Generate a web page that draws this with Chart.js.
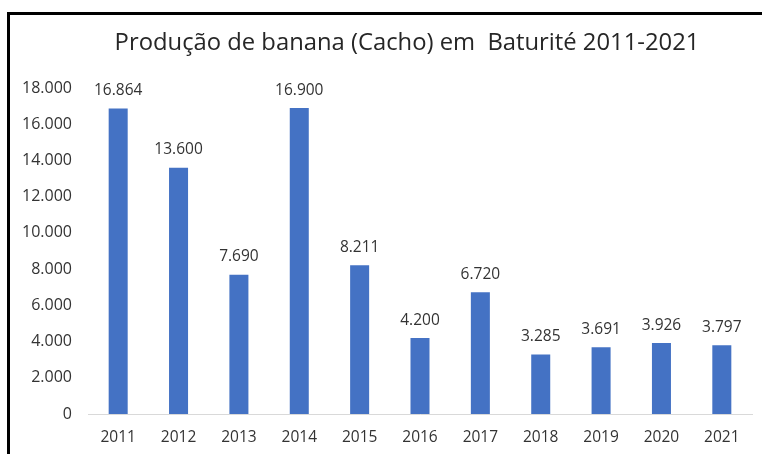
<!DOCTYPE html>
<html>
<head>
<meta charset="utf-8">
<script src="https://cdn.jsdelivr.net/npm/chart.js@4/dist/chart.umd.min.js"></script>
<style>
  html, body { margin: 0; padding: 0; background: #fff; }
  #wrap { position: relative; width: 762px; height: 454px; overflow: hidden; }
  #frame { position: absolute; left: 7px; top: 12px; width: 800px; height: 500px;
           border-left: 3px solid #000; border-top: 3px solid #000; box-sizing: border-box; }
  canvas { position: absolute; left: 0; top: 0; }
</style>
</head>
<body>
<div id="wrap">
  <div id="frame"></div>
  <canvas id="c" width="762" height="454"></canvas>
</div>
<script>
const categories = ["2011","2012","2013","2014","2015","2016","2017","2018","2019","2020","2021"];
const production = [16864, 13600, 7690, 16900, 8211, 4200, 6720, 3285, 3691, 3926, 3797];
const titleText = "Produção de banana (Cacho) em  Baturité 2011-2021";

const FONT = "'Open Sans', 'Noto Sans', sans-serif";
const fmt = v => v.toLocaleString('pt-BR');

const labelPlugin = {
  id: 'barLabels',
  afterDatasetsDraw(chart) {
    const ctx = chart.ctx;
    const meta = chart.getDatasetMeta(0);
    ctx.save();
    ctx.font = "15.5px " + FONT;
    ctx.fillStyle = '#333333';
    ctx.textAlign = 'center';
    ctx.textBaseline = 'bottom';
    meta.data.forEach((bar, i) => {
      ctx.fillText(fmt(chart.data.datasets[0].data[i]), bar.x, bar.y - 10);
    });
    ctx.restore();
  }
};

const titlePlugin = {
  id: 'customTitle',
  afterDraw(chart) {
    const ctx = chart.ctx;
    ctx.save();
    ctx.font = "23.8px " + FONT;
    ctx.fillStyle = '#262626';
    ctx.textAlign = 'center';
    ctx.textBaseline = 'middle';
    ctx.fillText(titleText, 407, 43);
    ctx.restore();
  }
};

new Chart(document.getElementById('c'), {
  type: 'bar',
  data: {
    labels: categories,
    datasets: [{
      data: production,
      backgroundColor: '#4472C4',
      categoryPercentage: 1.0,
      barPercentage: 0.315
    }]
  },
  options: {
    responsive: false,
    animation: false,
    layout: { padding: { left: 0, right: 10, top: 88, bottom: 0 } },
    plugins: {
      legend: { display: false },
      tooltip: { enabled: false },
      title: { display: false }
    },
    scales: {
      x: {
        grid: { display: false, drawTicks: false },
        border: { display: true, color: '#d9d9d9', width: 1 },
        ticks: { color: '#333333', font: { family: FONT, size: 15.5 }, padding: 14, maxRotation: 0 },
        afterFit(s) { s.height = 40; }
      },
      y: {
        min: 0, max: 18000,
        grid: { display: false, drawTicks: false },
        border: { display: false },
        ticks: { stepSize: 2000, color: '#333333', font: { family: FONT, size: 16 }, padding: 16,
                 callback: v => fmt(v) },
        afterFit(s) { s.width = 88; }
      }
    }
  },
  plugins: [labelPlugin, titlePlugin]
});
</script>
</body>
</html>
